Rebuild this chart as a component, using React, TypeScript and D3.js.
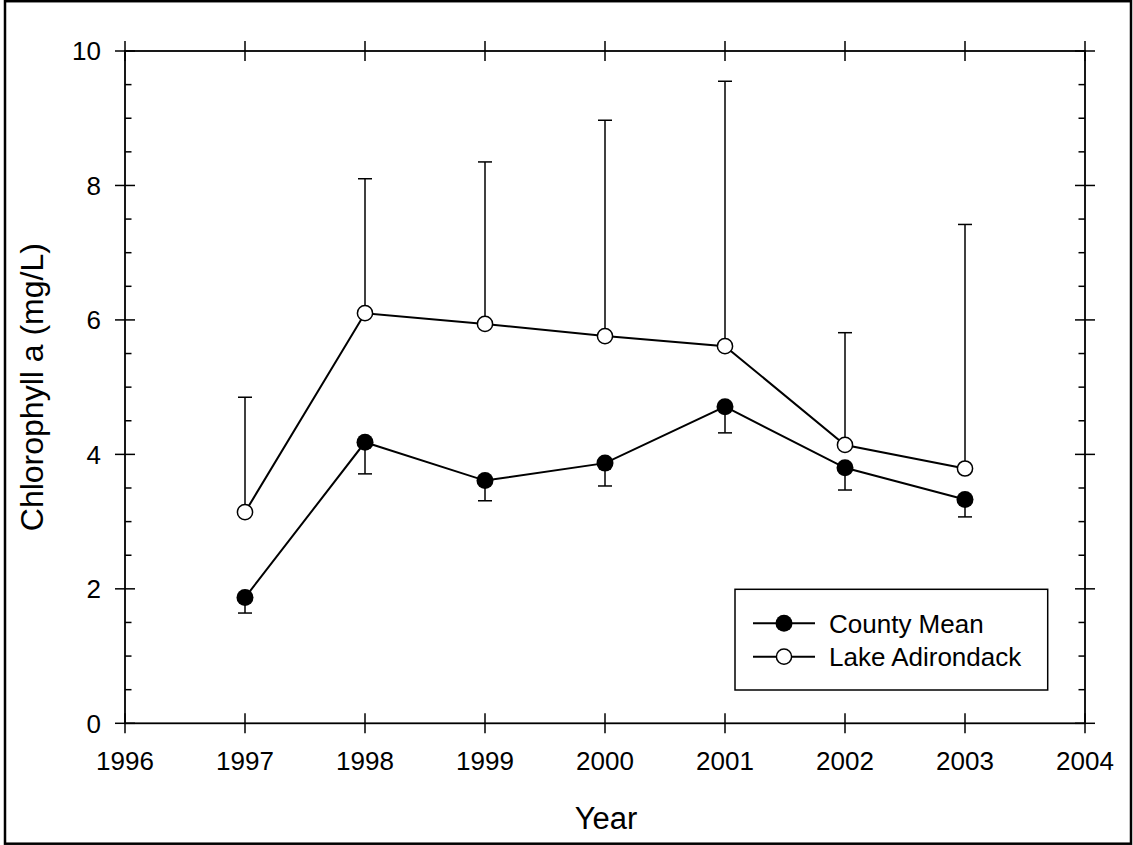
import React from "react";
import * as d3 from "d3";

const years = [1997, 1998, 1999, 2000, 2001, 2002, 2003];
const countyMean = [1.87, 4.18, 3.61, 3.87, 4.71, 3.8, 3.33];
const countyLower = [1.64, 3.71, 3.31, 3.53, 4.32, 3.47, 3.07];
const lakeAdirondack = [3.14, 6.1, 5.94, 5.76, 5.61, 4.14, 3.79];
const lakeUpper = [4.85, 8.1, 8.35, 8.97, 9.55, 5.81, 7.42];
const xTicks = [1996, 1997, 1998, 1999, 2000, 2001, 2002, 2003, 2004];
const yTicks = [0, 2, 4, 6, 8, 10];
const yMinor = d3.range(0, 10.01, 0.5).filter((v) => Math.abs(v % 2) > 0.01);
const seriesNames = ["County Mean", "Lake Adirondack"];

const W = 1133;
const H = 845;
const L = 125, R = 1085, T = 51, B = 723.3;
const FONT = "Arial, 'Liberation Sans', sans-serif";

export default function App() {
  const x = d3.scaleLinear().domain([1996, 2004]).range([L, R]);
  const y = d3.scaleLinear().domain([0, 10]).range([B, T]);
  const line = d3
    .line<[number, number]>()
    .x((d) => x(d[0]))
    .y((d) => y(d[1]));
  const countyPts = years.map((yr, i) => [yr, countyMean[i]] as [number, number]);
  const lakePts = years.map((yr, i) => [yr, lakeAdirondack[i]] as [number, number]);
  const cap = 7;

  return (
    <svg
      width={W}
      height={H}
      style={{ position: "absolute", left: 0, top: 0, background: "#fff" }}
      fontFamily={FONT}
    >
      <rect x={0} y={0} width={W} height={H} fill="#fff" />
      <rect x={5} y={1.2} width={1126} height={842.5} fill="none" stroke="#000" strokeWidth={2.5} />

      {/* frame */}
      <rect x={L} y={T} width={R - L} height={B - T} fill="none" stroke="#000" strokeWidth={1.8} />

      {/* x ticks bottom and top */}
      {xTicks.map((t) => (
        <g key={"xt" + t}>
          <line x1={x(t)} x2={x(t)} y1={B - 10} y2={B + 10} stroke="#000" strokeWidth={1.5} />
          <line x1={x(t)} x2={x(t)} y1={T - 10} y2={T + 10} stroke="#000" strokeWidth={1.5} />
          <text x={x(t)} y={770} textAnchor="middle" fontSize={26} fill="#000">
            {t}
          </text>
        </g>
      ))}

      {/* y ticks left and right */}
      {yTicks.map((t) => (
        <g key={"yt" + t}>
          <line x1={L - 10} x2={L + 10} y1={y(t)} y2={y(t)} stroke="#000" strokeWidth={1.5} />
          <line x1={R - 10} x2={R + 10} y1={y(t)} y2={y(t)} stroke="#000" strokeWidth={1.5} />
          <text x={101} y={y(t) + 9.3} textAnchor="end" fontSize={26} fill="#000">
            {t}
          </text>
        </g>
      ))}
      {yMinor.map((t) => (
        <g key={"ym" + t}>
          <line x1={L} x2={L + 6.5} y1={y(t)} y2={y(t)} stroke="#000" strokeWidth={1.5} />
          <line x1={R - 6.5} x2={R} y1={y(t)} y2={y(t)} stroke="#000" strokeWidth={1.5} />
        </g>
      ))}

      {/* axis titles */}
      <text x={606} y={829} textAnchor="middle" fontSize={31} fill="#000">
        Year
      </text>
      <text
        transform={`translate(43, ${(T + B) / 2}) rotate(-90)`}
        textAnchor="middle"
        fontSize={32}
        fill="#000"
      >
        Chlorophyll a (mg/L)
      </text>

      {/* lines */}
      <path d={line(lakePts) || ""} fill="none" stroke="#000" strokeWidth={2} />
      <path d={line(countyPts) || ""} fill="none" stroke="#000" strokeWidth={2} />

      {/* error bars */}
      {years.map((yr, i) => (
        <g key={"eb" + yr} stroke="#000" strokeWidth={1.5}>
          <line x1={x(yr)} x2={x(yr)} y1={y(lakeAdirondack[i])} y2={y(lakeUpper[i])} />
          <line x1={x(yr) - cap} x2={x(yr) + cap} y1={y(lakeUpper[i])} y2={y(lakeUpper[i])} />
          <line x1={x(yr)} x2={x(yr)} y1={y(countyMean[i])} y2={y(countyLower[i])} />
          <line x1={x(yr) - cap} x2={x(yr) + cap} y1={y(countyLower[i])} y2={y(countyLower[i])} />
        </g>
      ))}

      {/* markers */}
      {years.map((yr, i) => (
        <g key={"mk" + yr}>
          <circle cx={x(yr)} cy={y(lakeAdirondack[i])} r={7.6} fill="#fff" stroke="#000" strokeWidth={1.5} />
          <circle cx={x(yr)} cy={y(countyMean[i])} r={8.5} fill="#000" />
        </g>
      ))}

      {/* legend */}
      <rect x={735} y={589.3} width={312.7} height={100.7} fill="#fff" stroke="#000" strokeWidth={1.5} />
      {seriesNames.map((name, i) => {
        const cy = 623.3 + i * 33.4;
        return (
          <g key={name}>
            <line x1={753} x2={815} y1={cy} y2={cy} stroke="#000" strokeWidth={2} />
            {i === 0 ? (
              <circle cx={784} cy={cy} r={8.5} fill="#000" />
            ) : (
              <circle cx={784} cy={cy} r={7.6} fill="#fff" stroke="#000" strokeWidth={1.5} />
            )}
            <text x={829} y={cy + 9.3} fontSize={26} fill="#000">
              {name}
            </text>
          </g>
        );
      })}
    </svg>
  );
}
